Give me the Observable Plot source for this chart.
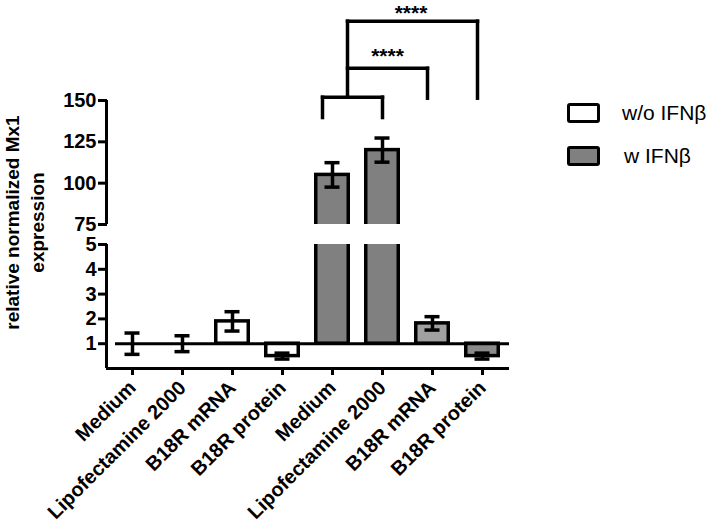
<!DOCTYPE html>
<html><head><meta charset="utf-8">
<script src="https://cdn.jsdelivr.net/npm/d3@7"></script>
<script src="https://cdn.jsdelivr.net/npm/@observablehq/plot@0.6"></script>
<style>
body{margin:0;background:#fff;font-family:'Liberation Sans',Arial,Helvetica,sans-serif;}
#wrap{position:relative;width:709px;height:524px;}
.lg{position:absolute;display:flex;align-items:center;font-size:21px;color:#000;white-space:nowrap;}
.sw{width:33px;height:20px;box-sizing:border-box;border:3.5px solid #000;border-radius:3px;margin-right:22px;}
</style></head><body><div id="wrap"></div>
<script>
// ---- data ----
const labels = ["Medium", "Lipofectamine 2000", "B18R mRNA", "B18R protein",
                "Medium", "Lipofectamine 2000", "B18R mRNA", "B18R protein"];
const groups = ["w/o IFNβ", "w/o IFNβ", "w/o IFNβ", "w/o IFNβ",
                "w IFNβ", "w IFNβ", "w IFNβ", "w IFNβ"];
const values = [1.0, 1.0, 1.9, 0.5, 105, 120, 1.82, 0.5];
const errors = [0.43, 0.32, 0.39, 0.12, 7.4, 7.3, 0.27, 0.12];
const fills  = ["#ffffff", "#ffffff", "#ffffff", "#ffffff", "#808080", "#808080", "#a0a0a0", "#8a8a8a"];
const yTicks = [1, 2, 3, 4, 5, 75, 100, 125, 150];
const legendLabels = ["w/o IFNβ", "w IFNβ"];
const legendFills = ["#ffffff", "#808080"];
const yTitle = "relative normalized Mx1\nexpression";
// significance brackets (x in bar-index units, y in data units)
const baseBracket = {left: 3.8, right: 5.0, top: 152, foot: 139.7, stem: 4.3};
const comparisons = [
  {from: 4.3, to: 5.9, level: 169.5, foot: 151.4, label: "****", labelX: 5.1, labelY: 181.7},
  {from: 4.3, to: 6.9, level: 198.0, foot: 151.4, label: "****", labelX: 5.57, labelY: 208.0}
];

// ---- derived tables ----
const idx = labels.map((_, i) => i);
const bars = idx.map(i => ({i, label: labels[i], group: groups[i], v: values[i], e: errors[i], fill: fills[i]}));
const segs = [
  {x1: baseBracket.left, y1: baseBracket.foot, x2: baseBracket.left, y2: baseBracket.top},
  {x1: baseBracket.right, y1: baseBracket.foot, x2: baseBracket.right, y2: baseBracket.top},
  {x1: baseBracket.left, y1: baseBracket.top, x2: baseBracket.right, y2: baseBracket.top},
  {x1: baseBracket.stem, y1: baseBracket.top, x2: baseBracket.stem, y2: d3.max(comparisons, c => c.level)}
];
for (const c of comparisons) {
  segs.push({x1: c.from, y1: c.level, x2: c.to, y2: c.level});
  segs.push({x1: c.to, y1: c.level, x2: c.to, y2: c.foot});
}
const capW = 0.15;

const chart = Plot.plot({
  width: 709,
  height: 524,
  marginLeft: 107,
  marginRight: 200,
  marginTop: 0,
  marginBottom: 156,
  style: {fontFamily: "'Liberation Sans', Arial, Helvetica, sans-serif", fontWeight: "bold", fontSize: "20px", background: "#fff", color: "#000"},
  x: {type: "linear", domain: [-0.5, 7.5], range: [107, 507]},
  y: {type: "linear", domain: [0, 5, 75, 210.5], range: [368, 244, 224, 0]},
  marks: [
    Plot.rectY(bars, {x1: d => d.i - 0.325, x2: d => d.i + 0.325, y1: 1, y2: "v", fill: "fill", stroke: "#000", strokeWidth: 3.5}),
    // axis break gap
    Plot.rectY([{a: 5, b: 75}], {x1: -0.5, x2: 7.6, y1: "a", y2: "b", fill: "#fff"}),
    Plot.ruleY([1], {x1: -0.34, x2: 7.54, stroke: "#000", strokeWidth: 3}),
    Plot.ruleX(bars, {x: "i", y1: d => d.v - d.e, y2: d => d.v + d.e, stroke: "#000", strokeWidth: 3.5}),
    Plot.ruleY(bars, {x1: d => d.i - capW, x2: d => d.i + capW, y: d => d.v + d.e, stroke: "#000", strokeWidth: 3.5}),
    Plot.ruleY(bars, {x1: d => d.i - capW, x2: d => d.i + capW, y: d => d.v - d.e, stroke: "#000", strokeWidth: 3.5}),
    // axes
    Plot.ruleX([{a: 0, b: 5}, {a: 75, b: 150}], {x: -0.52, y1: "a", y2: "b", stroke: "#000", strokeWidth: 3}),
    Plot.ruleY([0], {x1: -0.52, x2: 7.54, stroke: "#000", strokeWidth: 3}),
    Plot.axisY({ticks: yTicks, tickSize: 9, tickPadding: 2, strokeWidth: 3, fontSize: 20, label: null, tickFormat: d => String(d)}),
    Plot.axisX({ticks: idx, tickSize: 7, tickPadding: 9, strokeWidth: 3, tickRotate: -45, fontSize: 20, label: null, tickFormat: i => labels[i]}),
    Plot.text([yTitle], {x: -0.5, y: 76.2, dx: -84, rotate: -90, text: d => d, fontSize: 19, lineHeight: 1.3, textAnchor: "middle", lineAnchor: "middle", fill: "#000"}),
    // significance
    Plot.link(segs, {x1: "x1", y1: "y1", x2: "x2", y2: "y2", stroke: "#000", strokeWidth: 3.5, strokeLinecap: "square"}),
    Plot.text(comparisons, {x: "labelX", y: "labelY", text: "label", fontSize: 21, lineAnchor: "top", fill: "#000"})
  ]
});
const wrap = document.getElementById("wrap");
wrap.appendChild(chart);

// legend
const lgTops = [103, 146];
legendLabels.forEach((t, k) => {
  const row = document.createElement("div");
  row.className = "lg";
  row.style.left = "567px";
  row.style.top = lgTops[k] + "px";
  row.style.height = "20px";
  const sw = document.createElement("div");
  sw.className = "sw";
  sw.style.background = legendFills[k];
  const tx = document.createElement("span");
  tx.textContent = t;
  if (k === 1) tx.style.marginLeft = "2px";
  row.appendChild(sw);
  row.appendChild(tx);
  wrap.appendChild(row);
});
</script>
</body></html>
